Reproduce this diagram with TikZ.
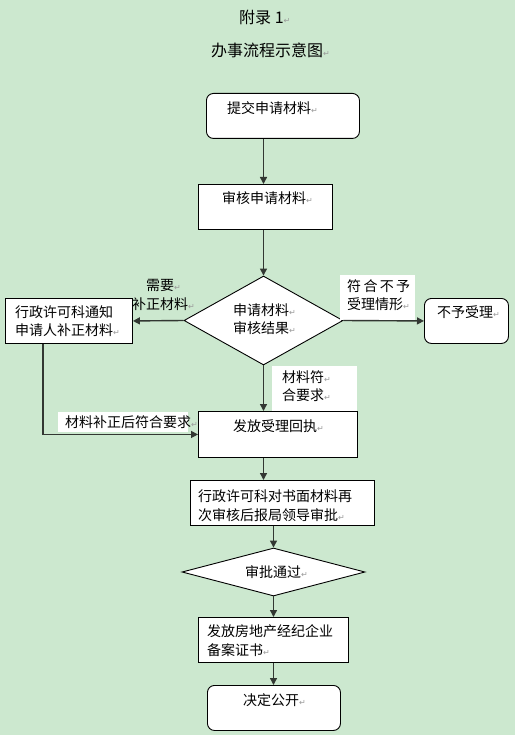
\documentclass[tikz,border=0pt]{standalone}
\usepackage{fontspec}
\setmainfont{Noto Sans CJK SC}
\newfontfamily\djv{DejaVu Sans}
\usetikzlibrary{arrows.meta,shapes.geometric}
\definecolor{bg}{RGB}{204,232,207}
\definecolor{ln}{RGB}{50,55,50}
\newcommand\retmark{\rlap{\djv\fontsize{8}{8}\selectfont\color{black!40}↵}}
\begin{document}
\begin{tikzpicture}[x=1pt,y=-1pt,
  box/.style={draw=black,line width=0.9pt,fill=white,inner sep=0,anchor=north west},
  rbox/.style={box,rounded corners=7pt},
  dia/.style={diamond,draw=black,line width=0.9pt,fill=white,inner sep=0},
  wlab/.style={fill=white,inner sep=0,anchor=north west},
  txt/.style={inner sep=0,anchor=west,align=left,font=\fontsize{14}{18.5}\selectfont},
  ttl/.style={inner sep=0,anchor=west,font=\fontsize{16}{18}\selectfont},
  arr/.style={draw=ln,line width=1.4pt,-{Triangle[length=7pt,width=7pt]}},
  conn/.style={draw=ln,line width=1.4pt}]
\fill[bg] (0,0) rectangle (515,735);
\useasboundingbox (0,0) rectangle (515,735);

% titles
\node[ttl] (t0) at (239,17) {附录 1\retmark};
\node[ttl] (t00) at (211,50) {办事流程示意图\retmark};

% boxes
\node[rbox,minimum width=153,minimum height=45] (b1) at (206,93) {};
\node[box,minimum width=134,minimum height=45] (b2) at (198,184) {};
\node[dia,minimum width=159,minimum height=89] (d1) at (263.5,320.5) {};
\node[box,minimum width=127,minimum height=45] (lb) at (5,298) {};
\node[rbox,minimum width=84,minimum height=45] (nb) at (424,298) {};
\node[box,minimum width=159,minimum height=46] (b3) at (198,411) {};
\node[box,minimum width=184,minimum height=45] (b4) at (190,480) {};
\node[dia,minimum width=183,minimum height=48] (d2) at (273.5,572) {};
\node[box,minimum width=150,minimum height=45] (b5) at (198,617) {};
\node[rbox,minimum width=133,minimum height=45] (b6) at (207,685) {};

% white label backgrounds
\node[wlab,minimum width=75,minimum height=45] (w1) at (340,275) {};
\node[wlab,minimum width=85,minimum height=45] (w2) at (272,366) {};
\node[wlab,minimum width=130,minimum height=20] (w3) at (58,412) {};

% connectors
\draw[arr] (b1.south -| d1.north) -- (b2.north -| d1.north);
\draw[arr] (b2.south -| d1.north) -- (d1.north);
\draw[arr] (d1.west) -- (lb.east);
\draw[arr] (d1.east) -- (nb.west);
\draw[arr] (d1.south) -- (b3.north -| d1.south);
\coordinate (cl) at (43,0);
\draw[arr] (lb.south -| cl) |- (b3.west);
\draw[arr] (b3.south -| d1.south) -- (b4.north -| d1.south);
\draw[arr] (b4.south -| d2.north) -- (d2.north);
\draw[arr] (d2.south) -- (b5.north -| d2.south);
\draw[arr] (b5.south -| d2.south) -- (b6.north -| d2.south);

% texts
\node[txt] (x1) at (227,108) {提交申请材料\retmark};
\node[txt] (x2) at (222,198) {审核申请材料\retmark};
\node[txt] (xd1) at (233,319) {申请材料\retmark\\审核结果\retmark};
\node[txt] (xlb) at (15,321) {行政许可科通知\\申请人补正材料\retmark};
\node[txt,align=center,anchor=center] (xneed) at (160,295) {需要\retmark\\补正材料\retmark};
\node[txt] (xw1) at (347,295) {符\,合\,不\,予\\受理情形\retmark};
\node[txt] (xnb) at (437,312) {不予受理\retmark};
\node[txt] (xw2) at (282,386) {材料符\retmark\\合要求\retmark};
\node[txt] (xw3) at (65,422) {材料补正后符合要求\retmark};
\node[txt] (x3) at (233,426) {发放受理回执\retmark};
\node[txt] (x4) at (198,505.5) {行政许可科对书面材料再\\次审核后报局领导审批\retmark};
\node[txt] (xd2) at (245,572) {审批通过\retmark};
\node[txt] (x5) at (207,640.5) {发放房地产经纪企业\\备案证书\retmark};
\node[txt] (x6) at (243,700) {决定公开\retmark};
\end{tikzpicture}
\end{document}
